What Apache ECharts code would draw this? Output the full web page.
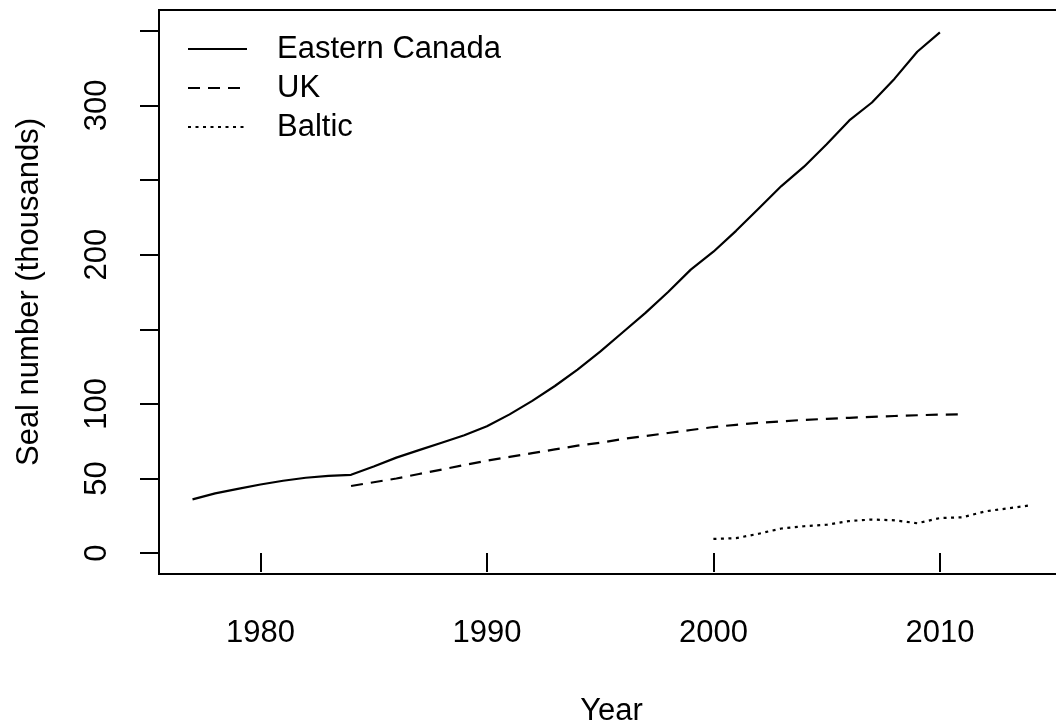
<!DOCTYPE html>
<html>
<head>
<meta charset="utf-8">
<script src="https://cdn.jsdelivr.net/npm/echarts@6/dist/echarts.min.js"></script>
<style>
html,body{margin:0;padding:0;background:#fff;}
#chart{width:1056px;height:723px;}
</style>
</head>
<body>
<div id="chart"></div>
<script>
// ---- Data ----
const canadaYears = [1977,1978,1979,1980,1981,1982,1983,1984,1985,1986,1987,1988,1989,1990,1991,1992,1993,1994,1995,1996,1997,1998,1999,2000,2001,2002,2003,2004,2005,2006,2007,2008,2009,2010];
const canadaValues = [36,40,43,46,48.5,50.5,51.7,52.5,58,64,69,74,79,85,93,102,112,123,135,148,161,175,190,202,216,231,246,259,274,290,302,318,336,349];

const ukYears = [1984,1985,1986,1987,1988,1989,1990,1991,1992,1993,1994,1995,1996,1997,1998,1999,2000,2001,2002,2003,2004,2005,2006,2007,2008,2009,2010,2011];
const ukValues = [45,47.5,50,53,56,59,62,64.5,67,69.5,72,74,76.5,78.5,80.5,82.5,84.5,86,87.3,88.3,89.3,90,90.7,91.3,91.9,92.4,92.8,93];

const balticYears = [2000,2001,2002,2003,2004,2005,2006,2007,2008,2009,2010,2011,2012,2013,2014];
const balticValues = [9.5,10,13,16.5,18,19,21.5,22.5,22,20,23.5,24,28,30,32];

const xTicks = [1980,1990,2000,2010];
const yTicks = [0,50,100,150,200,250,300,350];
const yTickLabels = [0,50,100,200,300];

const seriesNames = ['Eastern Canada','UK','Baltic'];

function zip(xs, ys){ return xs.map((x,i)=>[x, ys[i]]); }

const FONT = '"Liberation Sans", Arial, Helvetica, sans-serif';
const chart = echarts.init(document.getElementById('chart'), null, {renderer:'canvas'});

const option = {
  backgroundColor: '#fff',
  animation: false,
  textStyle: {fontFamily: FONT, color: '#000'},
  grid: {
    left: 159, top: 10, width: 905, height: 564,
    show: true, borderColor: '#000', borderWidth: 2, backgroundColor: 'transparent',
    containLabel: false,
    outerBoundsMode: 'none'
  },
  legend: {
    orient: 'vertical',
    left: 187, top: 33.5,
    padding: 0,
    itemWidth: 59, itemHeight: 20, itemGap: 8,
    data: seriesNames,
    itemStyle: {opacity: 0, borderWidth: 0, color: 'transparent'},
    textStyle: {fontFamily: FONT, fontSize: 31, color: '#000', lineHeight: 31, padding: [0,0,0,25]},
    selectedMode: false
  },
  xAxis: {
    type: 'value',
    min: 1975.52, max: 2015.48,
    name: 'Year', nameLocation: 'middle', nameGap: 122,
    nameTextStyle: {fontFamily: FONT, fontSize: 31, color: '#000'},
    axisLine: {show: false},
    splitLine: {show: false},
    axisTick: {show: true, inside: false, length: 19, customValues: xTicks, lineStyle: {color: '#000', width: 2}},
    axisLabel: {show: true, customValues: xTicks, margin: 44, fontFamily: FONT, fontSize: 31, color: '#000', formatter: v => String(v)}
  },
  yAxis: {
    type: 'value',
    min: -14, max: 364,
    name: 'Seal number (thousands)', nameLocation: 'middle', nameGap: 114,
    nameTextStyle: {fontFamily: FONT, fontSize: 31, color: '#000'},
    axisLine: {show: false},
    splitLine: {show: false},
    axisTick: {show: true, inside: false, length: 19, customValues: yTicks, lineStyle: {color: '#000', width: 2}},
    axisLabel: {show: true, customValues: yTickLabels, rotate: 90, margin: 46, fontFamily: FONT, fontSize: 31, color: '#000', formatter: v => String(v)}
  },
  series: [
    {name: seriesNames[0], type: 'line', data: zip(canadaYears, canadaValues), symbol: 'none', lineStyle: {color: '#000', width: 2.2, type: 'solid'}, itemStyle:{color:'#000'}},
    {name: seriesNames[1], type: 'line', data: zip(ukYears, ukValues), symbol: 'none', lineStyle: {color: '#000', width: 2.2, type: [12, 8]}, itemStyle:{color:'#000'}},
    {name: seriesNames[2], type: 'line', data: zip(balticYears, balticValues), symbol: 'none', lineStyle: {color: '#000', width: 2.2, type: [3, 4.5]}, itemStyle:{color:'#000'}}
  ]
};
chart.setOption(option);
</script>
</body>
</html>
